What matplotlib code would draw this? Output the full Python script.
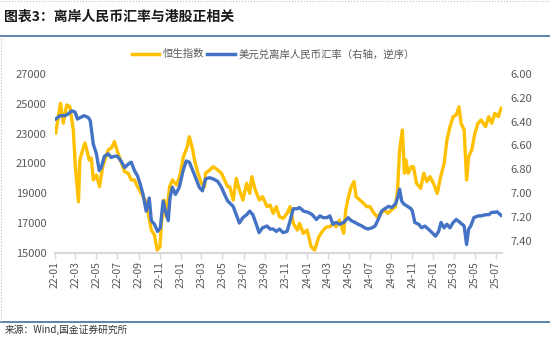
import pandas as pd
import matplotlib
matplotlib.use("Agg")
from matplotlib import pyplot as plt
import matplotlib.dates as mdates
from matplotlib.lines import Line2D

plt.rcParams['font.family'] = ['Noto Sans CJK SC', 'DejaVu Sans']

# 恒生指数 (left axis)
hsi_dates = [
    '2022-01-03', '2022-01-17', '2022-01-25', '2022-02-04', '2022-02-13', '2022-02-23',
    '2022-03-01', '2022-03-10', '2022-03-14', '2022-03-22', '2022-03-29', '2022-04-10',
    '2022-04-16', '2022-04-22', '2022-05-01', '2022-05-10', '2022-05-19', '2022-06-04',
    '2022-06-13', '2022-06-22', '2022-07-01', '2022-07-11', '2022-07-22', '2022-08-01',
    '2022-08-10', '2022-08-19', '2022-08-28', '2022-09-08', '2022-09-19', '2022-09-28',
    '2022-10-07', '2022-10-16', '2022-10-24', '2022-11-01', '2022-11-05', '2022-11-13',
    '2022-11-19', '2022-11-29', '2022-12-07', '2022-12-19', '2022-12-28', '2023-01-08',
    '2023-01-19', '2023-01-25', '2023-02-04', '2023-02-09', '2023-02-19', '2023-03-01',
    '2023-03-10', '2023-03-13', '2023-03-25', '2023-04-04', '2023-04-17', '2023-04-28',
    '2023-05-07', '2023-05-16', '2023-05-22', '2023-06-01', '2023-06-10', '2023-06-19',
    '2023-06-29', '2023-07-10', '2023-07-19', '2023-07-25', '2023-08-04', '2023-08-16',
    '2023-08-25', '2023-09-07', '2023-09-16', '2023-09-25', '2023-10-04', '2023-10-13',
    '2023-10-24', '2023-11-04', '2023-11-13', '2023-11-22', '2023-12-04', '2023-12-10',
    '2023-12-21', '2024-01-01', '2024-01-13', '2024-01-23', '2024-02-04', '2024-02-17',
    '2024-02-27', '2024-03-07', '2024-03-16', '2024-03-25', '2024-04-04', '2024-04-16',
    '2024-04-22', '2024-04-30', '2024-05-08', '2024-05-16', '2024-05-22', '2024-06-02',
    '2024-06-13', '2024-06-22', '2024-07-01', '2024-07-13', '2024-07-22', '2024-08-01',
    '2024-08-12', '2024-08-22', '2024-09-01', '2024-09-13', '2024-09-19', '2024-09-25',
    '2024-10-03', '2024-10-09', '2024-10-13', '2024-10-20', '2024-10-29', '2024-11-04',
    '2024-11-13', '2024-11-25', '2024-12-04', '2024-12-13', '2024-12-22', '2025-01-01',
    '2025-01-12', '2025-01-22', '2025-02-01', '2025-02-09', '2025-02-18', '2025-02-27',
    '2025-03-08', '2025-03-16', '2025-03-22', '2025-03-31', '2025-04-07', '2025-04-13',
    '2025-04-22', '2025-05-01', '2025-05-10', '2025-05-19', '2025-06-01', '2025-06-10',
    '2025-06-19', '2025-06-28', '2025-07-08', '2025-07-16',
]
hsi_values = [
    23040, 25030, 23700, 24920, 24800, 23240,
    20780, 18430, 21230, 21900, 22370, 21230,
    21360, 19890, 20220, 19440, 20780, 21900,
    22030, 22460, 21790, 21120, 20440, 20340,
    19890, 19890, 19440, 18990, 18540, 17650,
    16530, 16200, 15190, 15410, 16980, 18540,
    17420, 19440, 19890, 19550, 20110, 21450,
    22120, 22790, 21900, 21230, 20340, 19670,
    19440, 20340, 20560, 20780, 20560, 20340,
    19890, 19440, 19440, 18540, 20000, 19220,
    18540, 19670, 18990, 20110, 19220, 18540,
    18770, 18100, 18210, 17650, 18100, 17420,
    17310, 17650, 18100, 16980, 16530, 16980,
    16310, 16530, 15410, 15190, 16080, 16530,
    16750, 16750, 16980, 16750, 17200, 16310,
    17870, 18770, 19440, 19780, 18770, 18540,
    18320, 18100, 18100, 17650, 17420, 17650,
    17870, 17650, 17870, 18100, 19220, 21900,
    23240, 20340, 21230, 20340, 20780, 20780,
    19670, 19330, 20340, 19780, 20110, 19670,
    18990, 20110, 21000, 22570, 23460, 24130,
    24250, 24800, 23690, 23240, 19890, 21450,
    21900, 23020, 23690, 23910, 23460, 24130,
    23690, 24360, 24130, 24700,
]

# 美元兑离岸人民币 (right axis, inverted)
cnh_dates = [
    '2022-01-03', '2022-01-16', '2022-01-30', '2022-02-08', '2022-02-19', '2022-02-28',
    '2022-03-07', '2022-03-16', '2022-03-26', '2022-04-07', '2022-04-13', '2022-04-22',
    '2022-05-01', '2022-05-09', '2022-05-15', '2022-05-24', '2022-06-04', '2022-06-13',
    '2022-06-22', '2022-07-01', '2022-07-11', '2022-07-22', '2022-08-01', '2022-08-10',
    '2022-08-19', '2022-08-28', '2022-09-05', '2022-09-13', '2022-09-22', '2022-10-01',
    '2022-10-07', '2022-10-16', '2022-10-25', '2022-11-02', '2022-11-10', '2022-11-17',
    '2022-11-25', '2022-11-30', '2022-12-07', '2022-12-16', '2022-12-27', '2023-01-07',
    '2023-01-16', '2023-01-25', '2023-02-04', '2023-02-12', '2023-02-23', '2023-03-04',
    '2023-03-13', '2023-03-25', '2023-04-04', '2023-04-17', '2023-04-28', '2023-05-07',
    '2023-05-16', '2023-06-01', '2023-06-10', '2023-06-19', '2023-06-29', '2023-07-10',
    '2023-07-19', '2023-07-28', '2023-08-07', '2023-08-15', '2023-08-25', '2023-09-07',
    '2023-09-16', '2023-09-25', '2023-10-04', '2023-10-13', '2023-10-24', '2023-11-04',
    '2023-11-13', '2023-11-22', '2023-12-04', '2023-12-10', '2023-12-22', '2024-01-04',
    '2024-01-16', '2024-01-28', '2024-02-07', '2024-02-17', '2024-02-27', '2024-03-07',
    '2024-03-16', '2024-03-25', '2024-04-04', '2024-04-16', '2024-04-29', '2024-05-08',
    '2024-05-19', '2024-05-28', '2024-06-08', '2024-06-16', '2024-06-25', '2024-07-07',
    '2024-07-16', '2024-07-25', '2024-08-04', '2024-08-13', '2024-08-24', '2024-09-02',
    '2024-09-13', '2024-09-19', '2024-09-25', '2024-10-01', '2024-10-07', '2024-10-18',
    '2024-10-28', '2024-11-01', '2024-11-08', '2024-11-19', '2024-11-28', '2024-12-07',
    '2024-12-17', '2024-12-28', '2025-01-07', '2025-01-16', '2025-01-23', '2025-02-01',
    '2025-02-09', '2025-02-18', '2025-02-27', '2025-03-08', '2025-03-19', '2025-03-31',
    '2025-04-07', '2025-04-13', '2025-04-19', '2025-04-28', '2025-05-10', '2025-05-19',
    '2025-06-01', '2025-06-10', '2025-06-19', '2025-06-28', '2025-07-04', '2025-07-16',
]
cnh_values = [
    6.378, 6.350, 6.350, 6.336, 6.310, 6.320,
    6.378, 6.365, 6.350, 6.365, 6.390, 6.590,
    6.670, 6.810, 6.785, 6.690, 6.670, 6.700,
    6.690, 6.690, 6.730, 6.785, 6.756, 6.740,
    6.810, 6.855, 6.925, 7.010, 7.150, 7.040,
    7.230, 7.260, 7.320, 7.290, 7.065, 7.150,
    7.230, 7.040, 6.950, 7.010, 6.950, 6.810,
    6.730, 6.740, 6.810, 6.870, 6.950, 6.980,
    6.880, 6.870, 6.880, 6.900, 6.950, 7.010,
    7.065, 7.110, 7.180, 7.250, 7.205, 7.180,
    7.150, 7.180, 7.260, 7.330, 7.290, 7.275,
    7.300, 7.300, 7.320, 7.300, 7.330, 7.320,
    7.230, 7.130, 7.130, 7.120, 7.150, 7.160,
    7.180, 7.220, 7.190, 7.205, 7.205, 7.190,
    7.260, 7.245, 7.260, 7.245, 7.205, 7.230,
    7.245, 7.260, 7.275, 7.290, 7.300, 7.290,
    7.275, 7.220, 7.150, 7.130, 7.110, 7.120,
    7.090, 7.040, 6.966, 7.065, 7.090, 7.110,
    7.130, 7.150, 7.245, 7.260, 7.290, 7.275,
    7.300, 7.330, 7.360, 7.320, 7.245, 7.290,
    7.260, 7.290, 7.245, 7.220, 7.245, 7.275,
    7.430, 7.300, 7.275, 7.205, 7.190, 7.190,
    7.180, 7.180, 7.160, 7.160, 7.155, 7.185,
]

hsi_label = '恒生指数'
cnh_label = '美元兑离岸人民币汇率（右轴，逆序）'
yellow = '#FFC000'
blue = '#4472C4'
grey_txt = '#595959'

hsi = pd.Series(hsi_values, index=pd.to_datetime(hsi_dates))
cnh = pd.Series(cnh_values, index=pd.to_datetime(cnh_dates))

fig = plt.figure(figsize=(5.5, 3.39), dpi=100)
ax = fig.add_axes([0.1, 0.254, 0.813, 0.528])
ax2 = ax.twinx()

ax.plot(hsi.index, hsi.values, color=yellow, lw=2.4, zorder=2)
ax2.plot(cnh.index, cnh.values, color=blue, lw=2.4, zorder=3)

ax.set_ylim(15000, 27000)
ax.set_yticks(range(15000, 27001, 2000))
ax2.set_ylim(7.5, 6.0)
ax2.set_yticks([6.0, 6.2, 6.4, 6.6, 6.8, 7.0, 7.2, 7.4])
ax2.set_yticklabels(['%.2f' % v for v in ax2.get_yticks()])

ax.set_xlim(pd.Timestamp('2022-01-01'), pd.Timestamp('2025-07-19'))
ax.xaxis.set_major_locator(mdates.MonthLocator(bymonth=[1, 3, 5, 7, 9, 11]))
ax.xaxis.set_major_formatter(mdates.DateFormatter('%y-%m'))

for a in (ax, ax2):
    for s in a.spines.values():
        s.set_visible(False)
ax.spines['bottom'].set_visible(True)
ax.spines['bottom'].set_color('#D9D9D9')
ax.spines['bottom'].set_linewidth(1.5)

ax.tick_params(axis='x', colors='#D9D9D9', labelcolor=grey_txt, labelsize=7.5,
               labelrotation=90, length=4, width=1, pad=2)
ax.tick_params(axis='y', length=0, labelsize=8, labelcolor=grey_txt, pad=6)
ax2.tick_params(axis='y', length=0, labelsize=8, labelcolor=grey_txt, pad=6)
ax.patch.set_visible(False)

# legend
handles = [Line2D([], [], color=yellow, lw=2.5), Line2D([], [], color=blue, lw=2.5)]
fig.legend(handles, [hsi_label, cnh_label], loc='center', bbox_to_anchor=(0.497, 0.84),
           ncol=2, frameon=False, fontsize=7.5, handlelength=2.6, handletextpad=0.4,
           columnspacing=0.3, labelcolor=grey_txt)

# title and source
fig.text(0.008, 0.952, '图表3：离岸人民币汇率与港股正相关', fontsize=10, fontweight='bold',
         color='#1a1a1a', va='center', ha='left')
fig.add_artist(Line2D([0, 1], [0.893, 0.893], color='#41719C', lw=1.2, transform=fig.transFigure))
fig.add_artist(Line2D([0, 1], [0.050, 0.050], color='#41719C', lw=1.2, transform=fig.transFigure))
fig.text(0.008, 0.012, '来源：Wind,国金证券研究所', fontsize=7, color='#333333', va='bottom', ha='left')

# dotted frame on top-left edges
fig.add_artist(Line2D([0.002, 0.002], [0.05, 0.893], color='#BFBFBF', lw=0.8, ls=':', transform=fig.transFigure))
fig.add_artist(Line2D([0, 1], [0.997, 0.997], color='#BFBFBF', lw=0.8, ls=':', transform=fig.transFigure))

fig.savefig('out.png', dpi=100)
